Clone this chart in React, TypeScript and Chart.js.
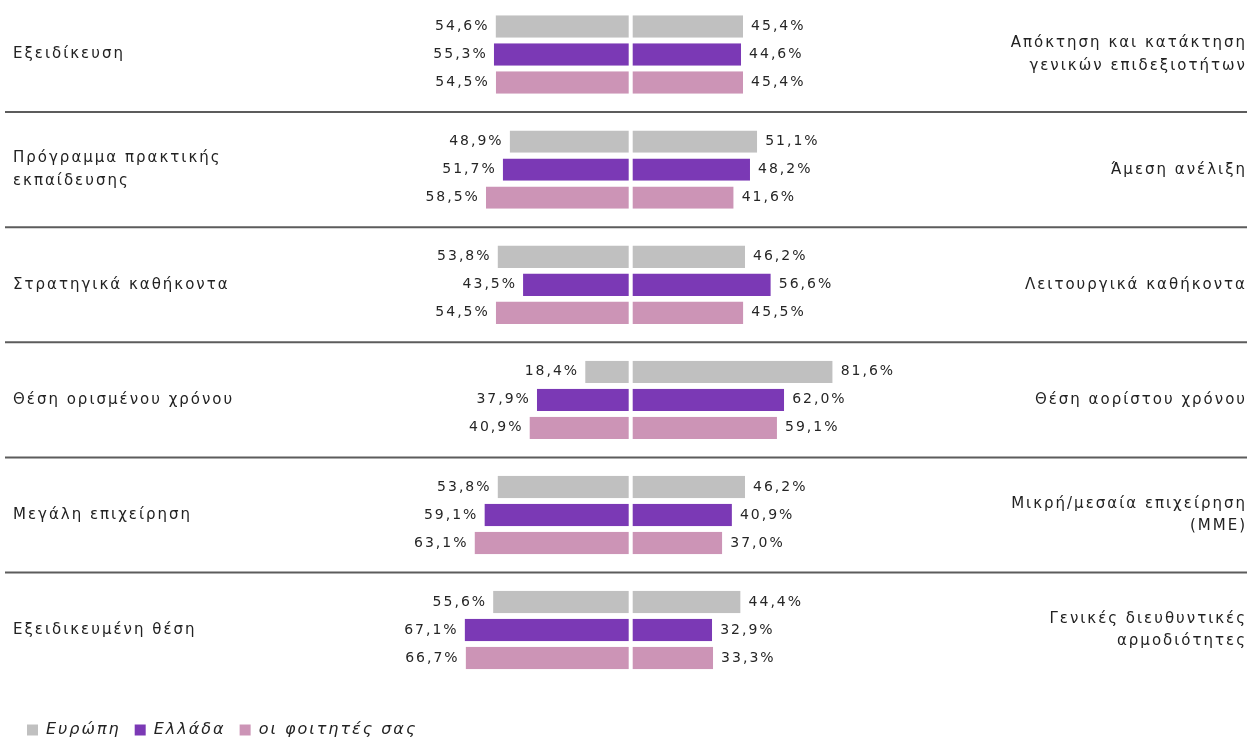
import React, { useEffect, useRef } from "react";
import { Chart, registerables } from "chart.js";

Chart.register(...registerables);

const LEFT_CATEGORIES: (string | string[])[] = [
  "Εξειδίκευση",
  ["Πρόγραμμα πρακτικής", "εκπαίδευσης"],
  "Στρατηγικά καθήκοντα",
  "Θέση ορισμένου χρόνου",
  "Μεγάλη επιχείρηση",
  "Εξειδικευμένη θέση",
];

const RIGHT_CATEGORIES: (string | string[])[] = [
  ["Απόκτηση και κατάκτηση", "γενικών επιδεξιοτήτων"],
  "Άμεση ανέλιξη",
  "Λειτουργικά καθήκοντα",
  "Θέση αορίστου χρόνου",
  ["Μικρή/μεσαία επιχείρηση", "(ΜΜΕ)"],
  ["Γενικές διευθυντικές", "αρμοδιότητες"],
];

const SERIES_NAMES = ["Ευρώπη", "Ελλάδα", "οι φοιτητές σας"];
const SERIES_COLORS = ["#c0c0c0", "#7b39b5", "#cc94b6"];

const EUROPE_LEFT = [54.6, 48.9, 53.8, 18.4, 53.8, 55.6];
const EUROPE_RIGHT = [45.4, 51.1, 46.2, 81.6, 46.2, 44.4];
const GREECE_LEFT = [55.3, 51.7, 43.5, 37.9, 59.1, 67.1];
const GREECE_RIGHT = [44.6, 48.2, 56.6, 62.0, 40.9, 32.9];
const STUDENTS_LEFT = [54.5, 58.5, 54.5, 40.9, 63.1, 66.7];
const STUDENTS_RIGHT = [45.4, 41.6, 45.5, 59.1, 37.0, 33.3];

const LEFT_VALUES = [EUROPE_LEFT, GREECE_LEFT, STUDENTS_LEFT];
const RIGHT_VALUES = [EUROPE_RIGHT, GREECE_RIGHT, STUDENTS_RIGHT];

const FONT = "'DejaVu Sans', Verdana, sans-serif";
const fmt = (v: number) => Math.abs(v).toFixed(1).replace(".", ",") + "%";

const spacingPlugin = {
  id: "spacing",
  beforeDraw(chart: any) {
    chart.ctx.letterSpacing = "2px";
  },
};

const separatorPlugin = {
  id: "separators",
  beforeDatasetsDraw(chart: any) {
    const y = chart.scales.y;
    const ctx = chart.ctx;
    ctx.save();
    ctx.strokeStyle = "#5c5c5c";
    ctx.lineWidth = 2;
    for (let i = 0; i < LEFT_CATEGORIES.length - 1; i++) {
      const py = (y.getPixelForValue(i) + y.getPixelForValue(i + 1)) / 2;
      ctx.beginPath();
      ctx.moveTo(5, py);
      ctx.lineTo(chart.width - 5, py);
      ctx.stroke();
    }
    ctx.restore();
  },
};

const valueLabelPlugin = {
  id: "valueLabels",
  afterDatasetsDraw(chart: any) {
    const ctx = chart.ctx;
    ctx.save();
    ctx.font = `14px ${FONT}`;
    ctx.fillStyle = "#262626";
    ctx.textBaseline = "middle";
    ctx.letterSpacing = "2px";
    chart.data.datasets.forEach((ds: any, di: number) => {
      const meta = chart.getDatasetMeta(di);
      const isLeft = di % 2 === 0;
      meta.data.forEach((el: any, i: number) => {
        const v = ds.data[i];
        const text = fmt(v);
        if (isLeft) {
          ctx.textAlign = "right";
          ctx.fillText(text, el.x - 6, el.y);
        } else {
          ctx.textAlign = "left";
          ctx.fillText(text, el.x + 8, el.y);
        }
      });
    });
    ctx.restore();
  },
};

const noPad = (s: any) => {
  s.paddingTop = 0;
  s.paddingBottom = 0;
};

export default function App() {
  const canvasRef = useRef<HTMLCanvasElement>(null);

  useEffect(() => {
    document.documentElement.style.overflow = "hidden";
    const datasets: any[] = [];
    const stacks = ["eu", "gr", "st"];
    for (let s = 0; s < 3; s++) {
      datasets.push({
        label: SERIES_NAMES[s],
        data: LEFT_VALUES[s].map((v) => -v),
        backgroundColor: SERIES_COLORS[s],
        borderColor: "#ffffff",
        borderWidth: { top: 0, bottom: 0, left: 0, right: 2 },
        borderSkipped: false,
        stack: stacks[s],
      });
      datasets.push({
        label: SERIES_NAMES[s] + " ",
        data: RIGHT_VALUES[s],
        backgroundColor: SERIES_COLORS[s],
        borderColor: "#ffffff",
        borderWidth: { top: 0, bottom: 0, left: 2, right: 0 },
        borderSkipped: false,
        stack: stacks[s],
      });
    }

    const tickFont = { family: FONT, size: 15, lineHeight: 1.5 };

    const chart = new Chart(canvasRef.current as HTMLCanvasElement, {
      type: "bar",
      data: { labels: LEFT_CATEGORIES as any, datasets },
      options: {
        animation: false,
        responsive: true,
        maintainAspectRatio: false,
        indexAxis: "y",
        categoryPercentage: 0.73,
        barPercentage: 0.8,
        layout: { padding: { left: 13, right: 5, top: 0, bottom: 0 } },
        scales: {
          x: {
            type: "linear",
            min: -100,
            max: 100,
            stacked: true,
            grid: { display: false },
            border: { display: false },
            ticks: { display: false },
            afterFit: (s: any) => {
              s.height = 20.4;
              s.paddingLeft = 0;
              s.paddingRight = 0;
            },
          },
          y: {
            type: "category",
            position: "left",
            grid: { display: false },
            border: { display: false },
            ticks: { crossAlign: "far", font: tickFont, color: "#222" },
            afterFit: (s: any) => {
              s.width = 370.2;
              noPad(s);
            },
          },
          y2: {
            type: "category",
            position: "right",
            labels: RIGHT_CATEGORIES as any,
            offset: true,
            grid: { display: false },
            border: { display: false },
            ticks: { crossAlign: "far", font: tickFont, color: "#222" },
            afterFit: (s: any) => {
              s.width = 368.8;
              noPad(s);
            },
          },
        },
        plugins: {
          tooltip: { enabled: false },
          legend: {
            position: "bottom",
            align: "start",
            labels: {
              boxWidth: 11,
              boxHeight: 11,
              padding: 14,
              color: "#222",
              font: { family: FONT, size: 16, style: "italic" },
              generateLabels: (c: any) =>
                Chart.defaults.plugins.legend.labels
                  .generateLabels(c)
                  .filter((it: any) => it.datasetIndex % 2 === 0)
                  .map((it: any) => ({ ...it, lineWidth: 0 })),
            },
          },
        },
      } as any,
      plugins: [spacingPlugin, separatorPlugin, valueLabelPlugin],
    });
    return () => chart.destroy();
  }, []);

  return (
    <div
      style={{
        position: "fixed",
        left: 0,
        top: -3,
        width: 1252,
        height: 751,
        background: "#ffffff",
      }}
    >
      <canvas ref={canvasRef} />
    </div>
  );
}
